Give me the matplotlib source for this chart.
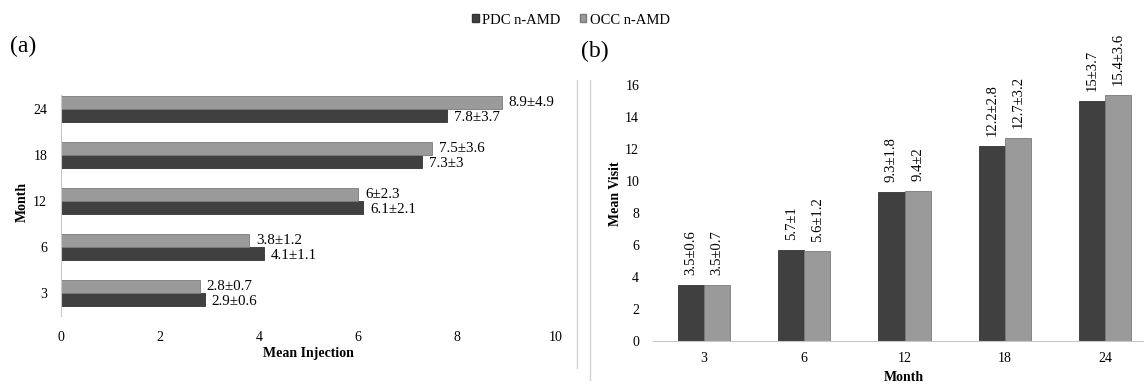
import matplotlib.pyplot as plt
import matplotlib.lines as mlines
from matplotlib.patches import Patch
import numpy as np

plt.rcParams['font.family'] = ['Liberation Serif', 'DejaVu Serif']

months = ['3', '6', '12', '18', '24']

# (a) mean injection
inj_pdc = [2.9, 4.1, 6.1, 7.3, 7.8]
inj_occ = [2.8, 3.8, 6.0, 7.5, 8.9]
inj_pdc_lbl = ['2.9±0.6', '4.1±1.1', '6.1±2.1', '7.3±3', '7.8±3.7']
inj_occ_lbl = ['2.8±0.7', '3.8±1.2', '6±2.3', '7.5±3.6', '8.9±4.9']

# (b) mean visit
vis_pdc = [3.5, 5.7, 9.3, 12.2, 15.0]
vis_occ = [3.5, 5.6, 9.4, 12.7, 15.4]
vis_pdc_lbl = ['3.5±0.6', '5.7±1', '9.3±1.8', '12.2±2.8', '15±3.7']
vis_occ_lbl = ['3.5±0.7', '5.6±1.2', '9.4±2', '12.7±3.2', '15.4±3.6']

dark = '#404040'
light = '#9a9a9a'
W, H = 1144, 386

fig = plt.figure(figsize=(W / 100, H / 100), dpi=100)

def box(x0, x1, y_top, y_bot):
    return [x0 / W, 1 - y_bot / H, (x1 - x0) / W, (y_bot - y_top) / H]

# ---- panel (a)
ax1 = fig.add_axes(box(61, 556, 86, 316))
y = np.arange(len(months))
h = 0.29
ax1.barh(y - h / 2, inj_pdc, h, color=dark, edgecolor='#333333', linewidth=0.6)
ax1.barh(y + h / 2, inj_occ, h, color=light, edgecolor='#7a7a7a', linewidth=0.6)
for i in range(len(months)):
    ax1.annotate(inj_pdc_lbl[i], (inj_pdc[i], y[i] - h / 2), xytext=(5, -1),
                 textcoords='offset points', va='center', ha='left', fontsize=10.8)
    ax1.annotate(inj_occ_lbl[i], (inj_occ[i], y[i] + h / 2), xytext=(5, 0),
                 textcoords='offset points', va='center', ha='left', fontsize=10.8)
ax1.set_xlim(0, 10)
ax1.set_ylim(-0.5, 4.5)
ax1.set_xticks([0, 2, 4, 6, 8, 10])
ax1.set_yticks(y)
ax1.set_yticklabels(months)
for s in ['top', 'right', 'bottom']:
    ax1.spines[s].set_visible(False)
ax1.spines['left'].set_color('#c8c8c8')
ax1.spines['left'].set_bounds(-0.5, 4.3)
ax1.tick_params(axis='both', length=0, labelsize=10)
ax1.tick_params(axis='x', pad=11)
ax1.tick_params(axis='y', pad=10)
ax1.set_xlabel('Mean Injection', fontsize=10, fontweight='bold')
ax1.set_ylabel('Month', fontsize=10, fontweight='bold')
ax1.xaxis.set_label_coords(0.499, (316 - 347) / 230)
ax1.yaxis.set_label_coords((29 - 61) / 495, (316 - 202) / 230)

# ---- panel (b)
ax2 = fig.add_axes(box(653, 1144, 85, 341))
x = np.arange(len(months))
w = 0.26
ax2.bar(x - w / 2, vis_pdc, w, color=dark, edgecolor='#333333', linewidth=0.6)
ax2.bar(x + w / 2, vis_occ, w, color=light, edgecolor='#7a7a7a', linewidth=0.6)
for i in range(len(months)):
    ax2.annotate(vis_pdc_lbl[i], (x[i] - w / 2, vis_pdc[i]), xytext=(0, 7),
                 textcoords='offset points', va='bottom', ha='center',
                 rotation=90, fontsize=10.5, annotation_clip=False)
    ax2.annotate(vis_occ_lbl[i], (x[i] + w / 2, vis_occ[i]), xytext=(0, 7),
                 textcoords='offset points', va='bottom', ha='center',
                 rotation=90, fontsize=10.5, annotation_clip=False)
ax2.set_xlim(-0.509, 4.389)
ax2.set_ylim(0, 16)
ax2.set_yticks(range(0, 17, 2))
ax2.set_xticks(x)
ax2.set_xticklabels(months)
for s in ['top', 'right', 'left']:
    ax2.spines[s].set_visible(False)
ax2.spines['bottom'].set_color('#c8c8c8')
ax2.tick_params(axis='both', length=0, labelsize=10)
ax2.tick_params(axis='x', pad=8)
ax2.tick_params(axis='y', pad=10)
ax2.set_xlabel('Month', fontsize=10, fontweight='bold')
ax2.set_ylabel('Mean Visit', fontsize=10, fontweight='bold')
ax2.xaxis.set_label_coords((904 - 653) / 491, (341 - 371) / 256)
ax2.yaxis.set_label_coords((622 - 653) / 491, (341 - 194) / 256)

# chart frame borders
fig.add_artist(mlines.Line2D([577 / W, 577 / W], [1 - 368 / H, 1 - 80 / H], color='#d4d4d4', lw=1))
fig.add_artist(mlines.Line2D([590 / W, 590 / W], [1 - 380 / H, 1 - 80 / H], color='#d4d4d4', lw=1))

# panel letters
fig.text(10 / W, 1 - 46 / H, '(a)', fontsize=17, va='center', ha='left')
fig.text(581 / W, 1 - 51 / H, '(b)', fontsize=17, va='center', ha='left')

# legend
handles = [Patch(facecolor=dark, edgecolor='#333333', label='PDC n-AMD'),
           Patch(facecolor=light, edgecolor='#7a7a7a', label='OCC n-AMD')]
fig.legend(handles=handles, loc='center', bbox_to_anchor=(571 / W, 1 - 20 / H), ncol=2,
           frameon=False, fontsize=10.5, handlelength=0.45, handleheight=0.45,
           handletextpad=0.25, columnspacing=1.3)

fig.savefig('out.png', dpi=100)
